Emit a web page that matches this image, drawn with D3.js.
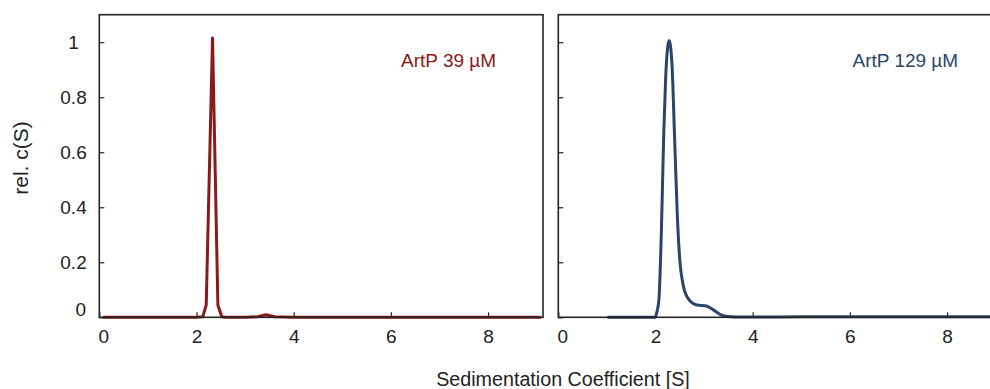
<!DOCTYPE html>
<html>
<head>
<meta charset="utf-8">
<script src="https://cdn.jsdelivr.net/npm/d3@7/dist/d3.min.js"></script>
<style>
  html, body { margin: 0; padding: 0; background: #fff; }
  svg { display: block; font-family: "Liberation Sans", Arial, sans-serif; }
</style>
</head>
<body>
<svg id="chart" width="990" height="389"></svg>
<script>
// ---- Data ----
const xTicks = [0, 2, 4, 6, 8];
const yTicks = [0, 0.2, 0.4, 0.6, 0.8, 1];
const yTickLabels = ["0", "0.2", "0.4", "0.6", "0.8", "1"];

const panelLabels = ["ArtP 39 µM", "ArtP 129 µM"];
const panelColors = ["#8b1a1a", "#2a4568"];

// ArtP 39 µM : sedimentation coefficient [S] and rel. c(S)
const s39 = [0.09, 1.0, 2.0, 2.13, 2.2, 2.33, 2.44, 2.52, 2.6, 3.0, 3.25, 3.43, 3.61, 4.0, 6.0, 8.0, 9.07];
const c39 = [0.0, 0.0, 0.0, 0.002, 0.045, 1.015, 0.045, 0.002, 0.0, 0.0, 0.002, 0.009, 0.002, 0.0, 0.0, 0.0, 0.0];

// ArtP 129 µM
const s129 = [1.03, 1.5, 1.99, 2.03, 2.07, 2.12, 2.17, 2.21, 2.28, 2.34, 2.39, 2.45, 2.5, 2.57, 2.67, 2.85, 3.05, 3.19, 3.36, 3.55, 3.74, 4.0, 5.0, 6.0, 7.0, 8.0, 9.3];
const c129 = [0.0, 0.0, 0.0, 0.02, 0.063, 0.305, 0.669, 0.875, 1.006, 0.917, 0.669, 0.366, 0.208, 0.117, 0.069, 0.045, 0.041, 0.027, 0.008, 0.002, 0.001, 0.001, 0.002, 0.002, 0.002, 0.002, 0.002];

const xLabel = "Sedimentation Coefficient [S]";
const yLabel = "rel. c(S)";

// ---- Layout ----
const svg = d3.select("#chart");
const plotTop = 14.7, plotBottom = 317.3;
const panels = [
  { x0: 99.3, x1: 543, s: s39, c: c39, showY: true, curve: d3.curveLinear },
  { x0: 558.3, x1: 1002, s: s129, c: c129, showY: false, curve: d3.curveMonotoneX }
];
const y = d3.scaleLinear().domain([0, 1.1]).range([plotBottom, plotTop]);
const axisColor = "#222";
const fontSize = 19;

svg.append("defs").append("clipPath").attr("id", "clipAll")
  .append("rect").attr("x", 0).attr("y", 0).attr("width", 990).attr("height", 389);

panels.forEach((p, i) => {
  const x = d3.scaleLinear().domain([0, 9.13]).range([p.x0, p.x1]);
  const g = svg.append("g").attr("clip-path", "url(#clipAll)");

  // x axis (ticks pointing inward)
  const xa = g.append("g").attr("transform", `translate(0,${plotBottom})`)
    .call(d3.axisBottom(x).tickValues(xTicks).tickSizeInner(-5).tickSizeOuter(0).tickPadding(0).tickFormat(d3.format("d")));
  xa.select(".domain").remove();
  xa.selectAll(".tick line").attr("stroke", axisColor).attr("stroke-width", 1.2);
  xa.selectAll(".tick text")
    .attr("fill", axisColor).attr("font-size", fontSize)
    .attr("font-family", "Liberation Sans, Arial, sans-serif")
    .attr("dy", null).attr("y", 26)
    .attr("dx", d => d === 0 ? 4 : 0);

  // y axis (ticks pointing inward)
  const ya = g.append("g").attr("transform", `translate(${p.x0},0)`)
    .call(d3.axisLeft(y).tickValues(yTicks).tickSizeInner(-5).tickSizeOuter(0)
      .tickFormat((d, k) => p.showY ? yTickLabels[k] : ""));
  ya.select(".domain").remove();
  ya.selectAll(".tick line").attr("stroke", axisColor).attr("stroke-width", 1.2);
  ya.selectAll(".tick text")
    .attr("fill", axisColor).attr("font-size", fontSize)
    .attr("font-family", "Liberation Sans, Arial, sans-serif")
    .attr("text-anchor", "middle")
    .attr("x", d => (d === 0 ? -18.5 : -25.8))
    .attr("dy", d => d === 0 ? "-0.08em" : "0.32em");

  // curve
  const pts = p.s.map((sv, k) => [sv, p.c[k]]);
  g.append("path").datum(pts)
    .attr("fill", "none").attr("stroke", panelColors[i]).attr("stroke-width", 3)
    .attr("stroke-linejoin", "round").attr("stroke-linecap", "round")
    .attr("d", d3.line().curve(p.curve).x(d => x(d[0])).y(d => y(d[1])));

  // frame
  g.append("rect").attr("x", p.x0).attr("y", plotTop)
    .attr("width", p.x1 - p.x0).attr("height", plotBottom - plotTop)
    .attr("fill", "none").attr("stroke", axisColor).attr("stroke-width", 1.6);

  // panel label
  g.append("text").attr("x", i === 0 ? 401 : 852.5).attr("y", 66.5)
    .attr("fill", panelColors[i]).attr("font-size", fontSize)
    .text(panelLabels[i]);
});

// axis titles
svg.append("text").attr("x", 563).attr("y", 386).attr("text-anchor", "middle")
  .attr("fill", axisColor).attr("font-size", 19.7).text(xLabel);
svg.append("text").attr("transform", "translate(28,158) rotate(-90)").attr("text-anchor", "middle")
  .attr("fill", axisColor).attr("font-size", 21).text(yLabel);
</script>
</body>
</html>
